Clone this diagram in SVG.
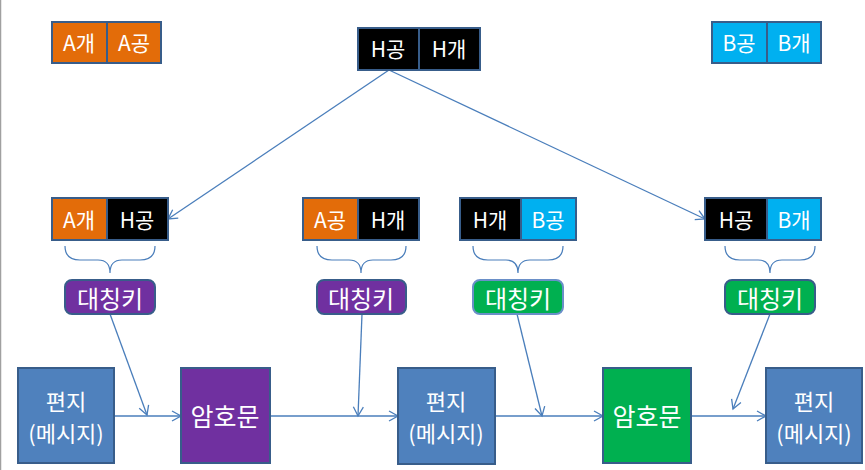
<svg xmlns="http://www.w3.org/2000/svg" width="865" height="470" viewBox="0 0 865 470">
<style>
.b{stroke:#385D8A;stroke-width:2}
.t{fill:#fff;font-family:"Noto Sans CJK KR","Liberation Sans",sans-serif;text-anchor:middle;dominant-baseline:central}
.s{font-size:21px}
.m{font-size:24px}
.l{font-size:22px}
.x{font-size:25px}
.c{fill:none;stroke:#4A7EBB;stroke-width:1.3}
.br{fill:none;stroke:#4A7EBB;stroke-width:1.2}
.or{fill:#E36C09}.bk{fill:#000}.cy{fill:#00B0F0}.pu{fill:#7030A0}.gr{fill:#00B050}.bl{fill:#4F81BD}
</style>
<defs>
<marker id="a" markerWidth="12" markerHeight="12" refX="10" refY="6" orient="auto" markerUnits="userSpaceOnUse">
<path d="M1,1 L10,6 L1,11" fill="none" stroke="#4A7EBB" stroke-width="1.3"/>
</marker>
</defs>
<rect width="865" height="470" fill="#fff"/>
<line x1="0.5" y1="0" x2="0.5" y2="470" stroke="#A0A0A0" stroke-width="1.5"/>

<g id="connectors">
<line class="c" x1="389" y1="70" x2="168" y2="219" marker-end="url(#a)"/>
<line class="c" x1="389" y1="70" x2="705" y2="219" marker-end="url(#a)"/>
<line class="c" x1="110" y1="314" x2="147" y2="415" marker-end="url(#a)"/>
<line class="c" x1="362" y1="314" x2="358" y2="416" marker-end="url(#a)"/>
<line class="c" x1="517" y1="314" x2="542" y2="416" marker-end="url(#a)"/>
<line class="c" x1="770" y1="314" x2="733" y2="409" marker-end="url(#a)"/>
<line class="c" x1="114" y1="416" x2="181" y2="416" marker-end="url(#a)"/>
<line class="c" x1="270" y1="416" x2="398" y2="416" marker-end="url(#a)"/>
<line class="c" x1="495" y1="416" x2="603" y2="416" marker-end="url(#a)"/>
<line class="c" x1="691" y1="416" x2="766" y2="416" marker-end="url(#a)"/>
<path class="br" d="M65,246 Q65,260 80,260 L98,260 Q110,260 110,273 Q110,260 122,260 L140,260 Q155,260 155,246"/>
<path class="br" d="M317,246 Q317,260 332,260 L349,260 Q361,260 361,273 Q361,260 373,260 L391,260 Q406,260 406,246"/>
<path class="br" d="M473,246 Q473,260 488,260 L506,260 Q518,260 518,273 Q518,260 530,260 L548,260 Q563,260 563,246"/>
<path class="br" d="M725,246 Q725,260 740,260 L758,260 Q770,260 770,273 Q770,260 782,260 L800,260 Q815,260 815,246"/>
</g>

<g id="keyA">
<rect class="b or" x="52" y="22" width="55" height="41"/>
<rect class="b or" x="107" y="22" width="54" height="41"/>
<text class="t s" x="79" y="42">A개</text>
<text class="t s" x="134" y="42">A공</text>
</g>
<g id="keyH">
<rect class="b bk" x="358" y="28" width="61" height="42"/>
<rect class="b bk" x="419" y="28" width="61" height="42"/>
<text class="t s" x="388" y="48">H공</text>
<text class="t s" x="449" y="48">H개</text>
</g>
<g id="keyB">
<rect class="b cy" x="712" y="22" width="55" height="41"/>
<rect class="b cy" x="767" y="22" width="54" height="41"/>
<text class="t s" x="739" y="42">B공</text>
<text class="t s" x="794" y="42">B개</text>
</g>

<g id="pair1">
<rect class="b or" x="52" y="198" width="55" height="42"/>
<rect class="b bk" x="107" y="198" width="61" height="42"/>
<text class="t s" x="79" y="219">A개</text>
<text class="t s" x="137" y="219">H공</text>
</g>
<g id="pair2">
<rect class="b or" x="303" y="198" width="55" height="42"/>
<rect class="b bk" x="358" y="198" width="61" height="42"/>
<text class="t s" x="330" y="219">A공</text>
<text class="t s" x="388" y="219">H개</text>
</g>
<g id="pair3">
<rect class="b bk" x="460" y="198" width="61" height="42"/>
<rect class="b cy" x="521" y="198" width="55" height="42"/>
<text class="t s" x="490" y="219">H개</text>
<text class="t s" x="548" y="219">B공</text>
</g>
<g id="pair4">
<rect class="b bk" x="705" y="198" width="62" height="42"/>
<rect class="b cy" x="767" y="198" width="54" height="42"/>
<text class="t s" x="736" y="219">H공</text>
<text class="t s" x="794" y="219">B개</text>
</g>

<g id="sym1">
<rect class="b pu" x="65" y="280" width="90" height="34" rx="7"/>
<text class="t m" x="110" y="297">대칭키</text>
</g>
<g id="sym2">
<rect class="b pu" x="317" y="280" width="89" height="34" rx="7"/>
<text class="t m" x="361" y="297">대칭키</text>
</g>
<g id="sym3">
<rect class="gr" x="473" y="280" width="90" height="34" rx="7" stroke="#6A8FC8" stroke-width="2"/>
<text class="t m" x="518" y="297">대칭키</text>
</g>
<g id="sym4">
<rect class="b gr" x="725" y="280" width="90" height="34" rx="7"/>
<text class="t m" x="770" y="297">대칭키</text>
</g>

<g id="letter1">
<rect class="b bl" x="18" y="368" width="96" height="95"/>
<text class="t l" x="66" y="400">편지</text>
<text class="t l" x="66" y="432">(메시지)</text>
</g>
<g id="cipher1">
<rect class="b pu" x="181" y="368" width="89" height="95"/>
<text class="t x" x="225" y="415">암호문</text>
</g>
<g id="letter2">
<rect class="b bl" x="398" y="368" width="97" height="96"/>
<text class="t l" x="446" y="400">편지</text>
<text class="t l" x="446" y="432">(메시지)</text>
</g>
<g id="cipher2">
<rect class="b gr" x="603" y="368" width="88" height="95"/>
<text class="t x" x="647" y="415">암호문</text>
</g>
<g id="letter3">
<rect class="b bl" x="766" y="368" width="96" height="95"/>
<text class="t l" x="814" y="400">편지</text>
<text class="t l" x="814" y="432">(메시지)</text>
</g>
</svg>
